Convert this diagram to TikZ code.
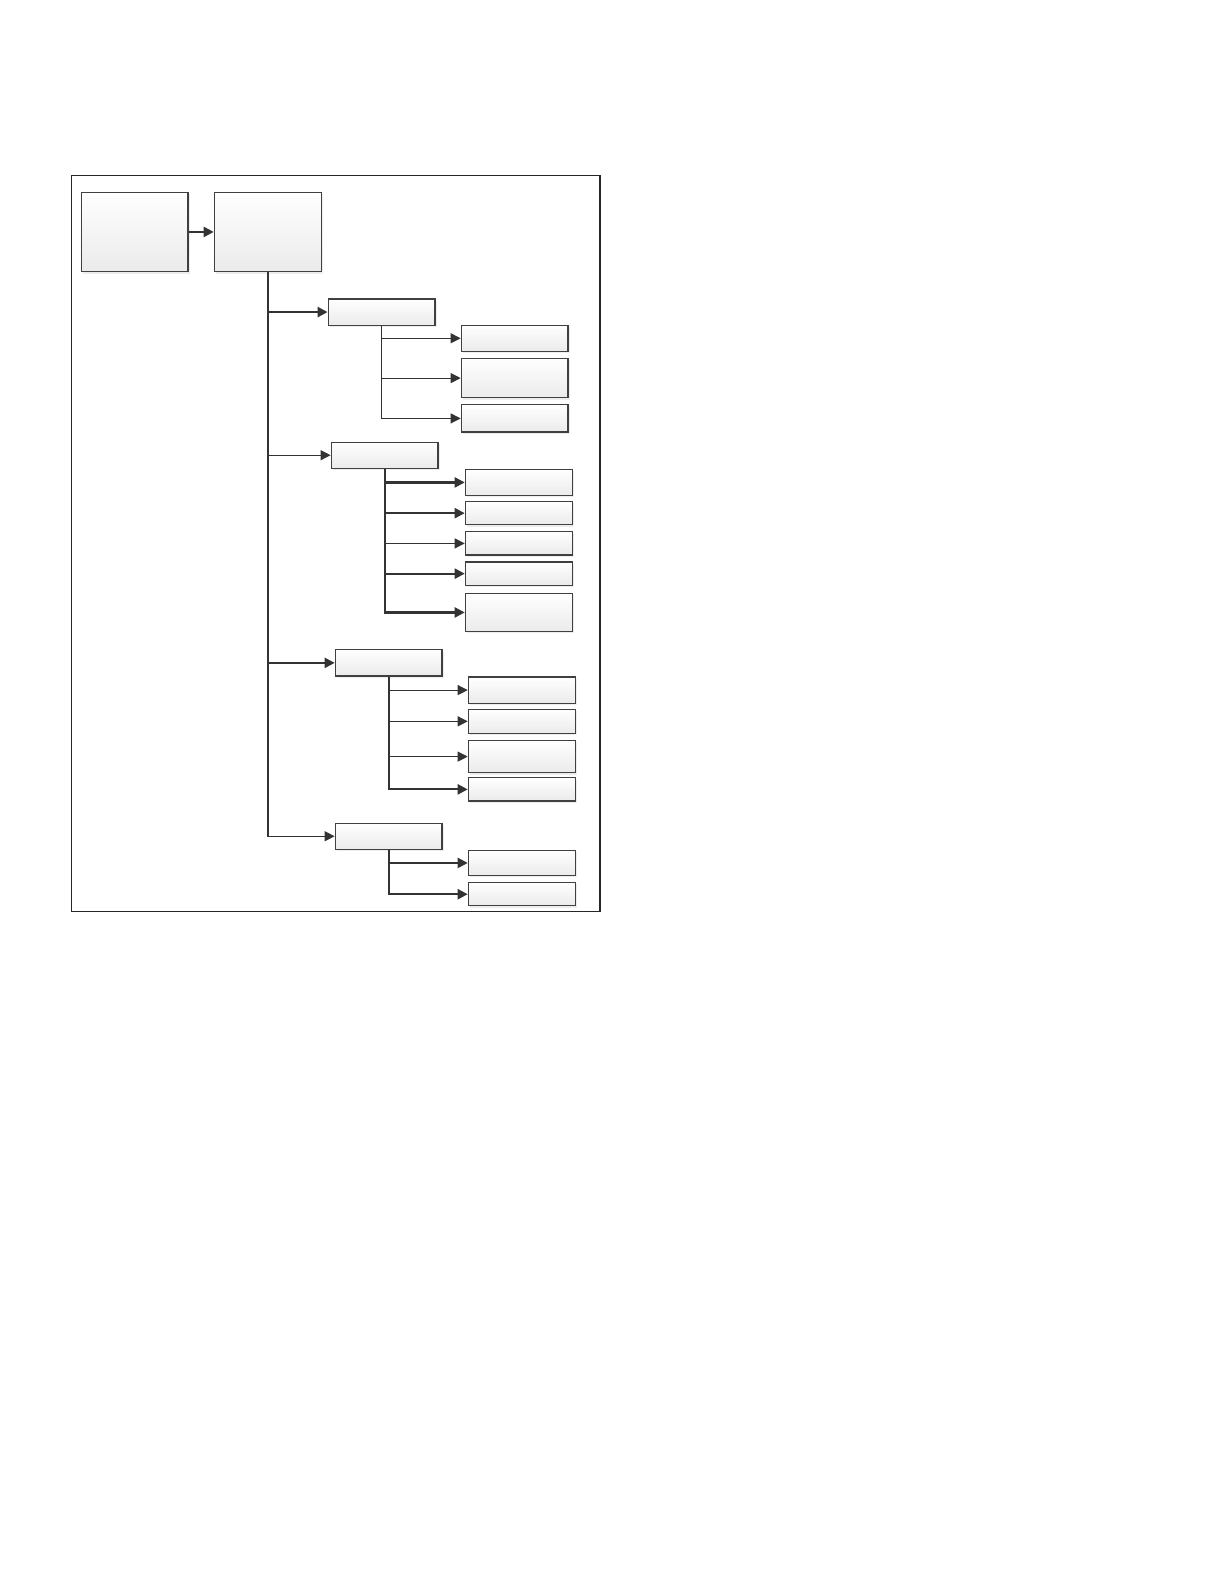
\documentclass[tikz,border=0pt]{standalone}
\usepackage{xcolor}
\usepackage{tikz}
\usetikzlibrary{arrows.meta,shadows}
\tikzset{
  frame/.style={draw=black!85, line width=0.75pt},
  box/.style={draw=black!75, line width=0.6pt, top color=white, bottom color=black!8,
    drop shadow={shadow xshift=0.9pt, shadow yshift=-0.9pt, fill=black, opacity=0.07},
    anchor=north west, inner sep=0pt, minimum width=53.4pt},
  thinArrow/.style={-{Triangle[length=5pt,width=5pt]}, line width=0.5pt, draw=black!80},
  thickArrow/.style={thinArrow, line width=1.1pt},
  thickLine/.style={line width=1.1pt, draw=black!80}
}
\newcommand{\PlaceBox}[4]{\node[box, minimum height={#4*0.504pt}] (#1) at (#2,#3) {};} % name, x, y, height (px)

\begin{document}
\begin{tikzpicture}[x=0.504pt, y=-0.504pt]
  \useasboundingbox (0,0) rectangle (1214.3,1571.4);
  % outer frame
  \draw[frame] (71,174) rectangle (595,904);

  % --- top row ---
  \PlaceBox{start}{80}{190}{79}
  \PlaceBox{main}{212}{190}{79}
  \draw[thickArrow] (start.east) -- (main.west);

  % --- level 1 ---
  \PlaceBox{grpA}{325}{296}{26}
  \PlaceBox{grpB}{328}{438}{26}
  \PlaceBox{grpC}{332}{644}{26}
  \PlaceBox{grpD}{332}{816}{26}

  % --- leaves of A ---
  \PlaceBox{a1}{457}{322}{26}
  \PlaceBox{a2}{457}{355}{39}
  \PlaceBox{a3}{457}{401}{27}
  % --- leaves of B ---
  \PlaceBox{b1}{461}{465}{26}
  \PlaceBox{b2}{461}{497}{23}
  \PlaceBox{b3}{461}{527}{23}
  \PlaceBox{b4}{461}{557}{23}
  \PlaceBox{b5}{461}{588}{38}
  % --- leaves of C ---
  \PlaceBox{c1}{464}{671}{26}
  \PlaceBox{c2}{464}{703}{24}
  \PlaceBox{c3}{464}{734}{32}
  \PlaceBox{c4}{464}{771}{23}
  % --- leaves of D ---
  \PlaceBox{d1}{464}{843}{25}
  \PlaceBox{d2}{464}{875}{23}

  % trunk
  \draw[thickLine] (main.south) -- (main.south |- grpD.west);
  \draw[thickArrow] (main.south) |- (grpA.west);
  \draw[thinArrow] (main.south) |- (grpB.west);
  \draw[thickArrow] (main.south) |- (grpC.west);
  \draw[thinArrow] (main.south) |- (grpD.west);

  % branch A
  \foreach \n in {a1,a2,a3}{
    \draw[thinArrow] (grpA.south) |- (\n.west);
  }
  % branch B
  \draw[thickArrow] (grpB.south) |- (b1.west);
  \draw[thickArrow] (grpB.south) |- (b2.west);
  \draw[thinArrow] (grpB.south) |- (b3.west);
  \draw[thickArrow] (grpB.south) |- (b4.west);
  \draw[thickArrow] (grpB.south) |- (b5.west);
  % branch C
  \draw[thinArrow] (grpC.south) |- (c1.west);
  \draw[thinArrow] (grpC.south) |- (c2.west);
  \draw[thinArrow] (grpC.south) |- (c3.west);
  \draw[thickArrow] (grpC.south) |- (c4.west);
  % branch D
  \draw[thickArrow] (grpD.south) |- (d1.west);
  \draw[thickArrow] (grpD.south) |- (d2.west);
\end{tikzpicture}
\end{document}
